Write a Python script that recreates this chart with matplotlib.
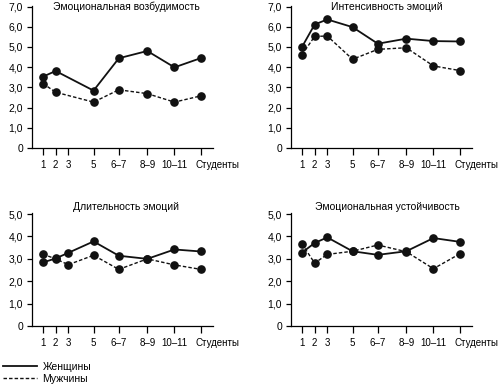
import matplotlib
matplotlib.use("Agg")
import matplotlib.pyplot as plt
from matplotlib.lines import Line2D

plt.rcParams['font.family'] = ['Liberation Sans', 'DejaVu Sans']
plt.rcParams['font.size'] = 7.5

# Данные
groups = ["1", "2", "3", "5", "6–7", "8–9", "10–11", "Студенты"]
xpos = [1, 2, 3, 5, 7, 9.25, 11.4, 13.5]

titles = ["Эмоциональная возбудимость", "Интенсивность эмоций",
          "Длительность эмоций", "Эмоциональная устойчивость"]

# Возбудимость (нет значения для 3 класса)
exc_women = [3.53, 3.81, None, 2.84, 4.44, 4.80, 3.99, 4.45]
exc_men = [3.19, 2.76, None, 2.27, 2.88, 2.69, 2.27, 2.58]
# Интенсивность
int_women = [5.00, 6.11, 6.36, 5.98, 5.16, 5.41, 5.29, 5.27]
int_men = [4.62, 5.52, 5.54, 4.39, 4.88, 4.96, 4.06, 3.83]
# Длительность
dur_women = [2.84, 3.02, 3.27, 3.78, 3.14, 3.0, 3.42, 3.33]
dur_men = [3.21, 3.0, 2.74, 3.16, 2.53, 3.0, 2.73, 2.53]
# Устойчивость
st_women = [3.28, 3.71, 3.96, 3.34, 3.18, 3.34, 3.93, 3.76]
st_men = [3.67, 2.81, 3.20, 3.34, 3.62, 3.32, 2.56, 3.23]

women = [exc_women, int_women, dur_women, st_women]
men = [exc_men, int_men, dur_men, st_men]
ymax = [7, 7, 5, 5]

fig = plt.figure(figsize=(5, 3.84), dpi=100)
W, H = 500, 384
# положение осей в пикселях: левый край, верх, низ
boxes = [(32, 5.5, 148), (291, 5.5, 148), (32, 213, 326), (291, 213, 326)]
title_pos = [(126, 7), (387, 7), (126, 207), (387, 207)]
axw = 181

for i in range(4):
    l, t, b = boxes[i]
    ax = fig.add_axes([l / W, 1 - b / H, axw / W, (b - t) / H])
    xs = [x for x, v in zip(xpos, women[i]) if v is not None]
    wv = [v for v in women[i] if v is not None]
    mv = [v for v in men[i] if v is not None]
    ax.plot(xs, wv, '-', color='#111111', lw=1.3, marker='o', ms=5.2)
    ax.plot(xs, mv, color='#111111', lw=1.0, ls=(0, (2.5, 1.5)), marker='o', ms=5.2)
    ax.set_xlim(0.13, 14.45)
    ax.set_ylim(0, ymax[i] + 0.05)
    ax.set_xticks(xpos)
    # последняя подпись ("Студенты") сдвинута вправо, как в оригинале
    ax.set_xticklabels(groups[:-1] + [""])
    ax.annotate(groups[-1], xy=(xpos[-1], 0), xycoords=('data', 'axes fraction'),
                xytext=(-5.5, -16.5), textcoords='offset pixels',
                ha='left', va='center', fontsize=7)
    yt = list(range(ymax[i] + 1))
    ax.set_yticks(yt)
    ax.set_yticklabels(["0"] + [f"{v},0" for v in yt[1:]])
    ax.spines['top'].set_visible(False)
    ax.spines['right'].set_visible(False)
    for s in ('left', 'bottom'):
        ax.spines[s].set_linewidth(0.9)
    ax.tick_params(axis='x', length=5, width=0.9, pad=3.5, labelsize=7)
    ax.tick_params(axis='y', length=3.5, width=0.9, pad=3, labelsize=7.5)
    tx, ty = title_pos[i]
    fig.text(tx / W, 1 - ty / H, titles[i], ha='center', va='center', fontsize=7.5)

handles = [Line2D([], [], color='#111111', lw=1.3),
           Line2D([], [], color='#111111', lw=1.0, ls=(0, (2.5, 1.5)))]
fig.legend(handles, ["Женщины", "Мужчины"], loc='upper left',
           bbox_to_anchor=(3 / W, 1 - 362 / H), frameon=False, fontsize=7.5,
           handlelength=3.3, handletextpad=0.5, borderpad=0, borderaxespad=0,
           labelspacing=0.15)

fig.savefig("out.png", dpi=100)
